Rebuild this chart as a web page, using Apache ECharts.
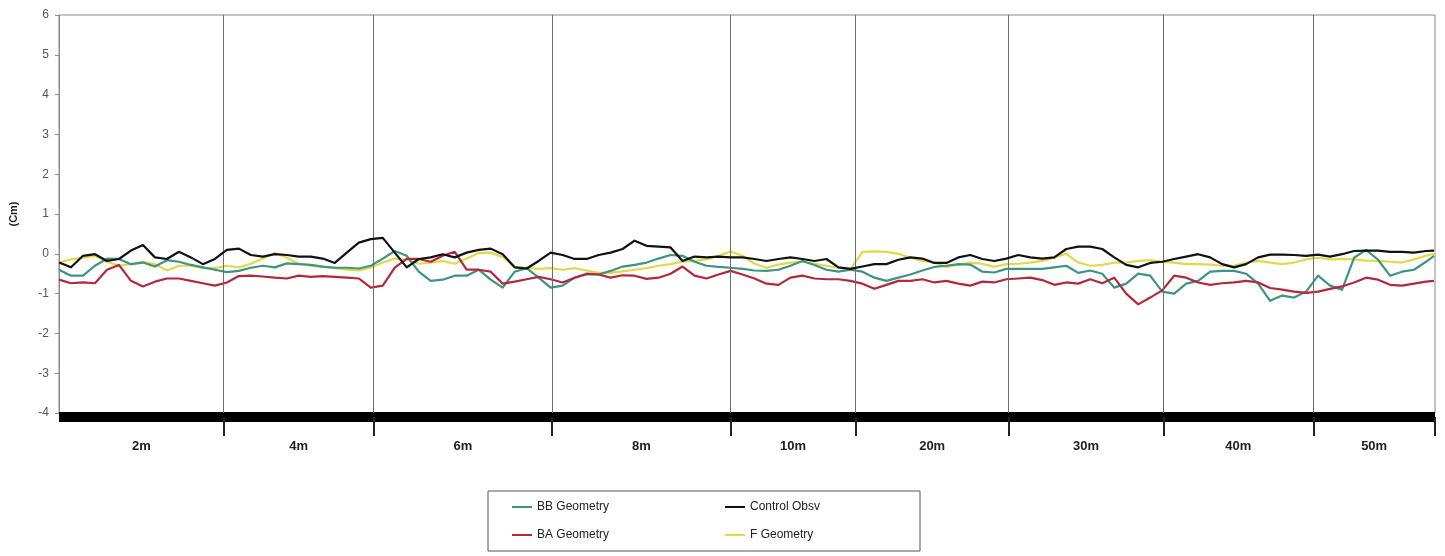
<!DOCTYPE html>
<html>
<head>
<meta charset="utf-8">
<script src="https://cdn.jsdelivr.net/npm/echarts@6/dist/echarts.min.js"></script>
<style>
html,body{margin:0;padding:0;background:#fff;}
#chart{width:1445px;height:556px;}
</style>
</head>
<body>
<div id="chart"></div>
<script>
// Section names (bottom axis) and their extents along the sample index scale
const sectionNames = ['2m','4m','6m','8m','10m','20m','30m','40m','50m'];
const sectionBounds = [0, 41.2, 78.7, 123.4, 168, 199.3, 237.6, 276.3, 313.8, 344.25];

// Sample positions (index along the run)
const samplePos = [0,3,6,9,12,15,18,21,24,27,30,33,36,39,42,45,48,51,54,57,60,63,66,69,72,75,78,81,84,87,90,93,96,99,102,105,108,111,114,117,
120,123,126,129,132,135,138,141,144,147,150,153,156,159,162,165,168,171,174,177,180,183,186,189,192,195,198,201,204,207,210,213,216,219,222,225,228,231,234,
237,240,243,246,249,252,255,258,261,264,267,270,273,276,279,282,285,288,291,294,297,300,303,306,309,312,315,318,321,324,327,330,333,336,339,342,344];

// Y axis tick values
const yTicks = [-4,-3,-2,-1,0,1,2,3,4,5,6];

const bbGeometry = [-0.40,-0.55,-0.55,-0.30,-0.12,-0.13,-0.26,-0.22,-0.32,-0.16,-0.20,-0.28,-0.34,-0.40,-0.46,-0.43,-0.35,-0.30,-0.34,-0.24,-0.26,-0.28,-0.32,-0.35,-0.35,-0.37,-0.30,-0.12,0.07,-0.05,-0.45,-0.68,-0.65,-0.55,-0.55,-0.40,-0.65,-0.85,-0.45,-0.36,
-0.60,-0.85,-0.80,-0.60,-0.52,-0.52,-0.43,-0.32,-0.28,-0.22,-0.12,-0.03,-0.05,-0.20,-0.30,-0.33,-0.35,-0.38,-0.42,-0.43,-0.40,-0.30,-0.18,-0.28,-0.40,-0.45,-0.40,-0.45,-0.60,-0.68,-0.60,-0.52,-0.42,-0.33,-0.30,-0.26,-0.27,-0.45,-0.47,
-0.38,-0.38,-0.38,-0.38,-0.34,-0.30,-0.48,-0.42,-0.50,-0.85,-0.75,-0.50,-0.55,-0.95,-1.00,-0.75,-0.68,-0.45,-0.43,-0.43,-0.50,-0.75,-1.18,-1.05,-1.10,-0.95,-0.55,-0.80,-0.90,-0.10,0.10,-0.15,-0.55,-0.45,-0.40,-0.20,-0.05];

const controlObsv = [-0.22,-0.34,-0.05,-0.01,-0.18,-0.13,0.08,0.22,-0.09,-0.13,0.05,-0.09,-0.26,-0.13,0.10,0.13,-0.03,-0.07,-0.01,-0.03,-0.07,-0.07,-0.12,-0.23,0.03,0.28,0.37,0.40,0.03,-0.34,-0.13,-0.09,-0.01,-0.09,0.03,0.10,0.13,-0.01,-0.34,-0.37,
-0.18,0.03,-0.03,-0.13,-0.13,-0.03,0.03,0.12,0.33,0.20,0.18,0.16,-0.18,-0.07,-0.09,-0.07,-0.09,-0.09,-0.13,-0.18,-0.13,-0.09,-0.13,-0.18,-0.13,-0.34,-0.38,-0.32,-0.26,-0.26,-0.15,-0.09,-0.12,-0.23,-0.23,-0.09,-0.03,-0.13,-0.18,
-0.12,-0.03,-0.09,-0.12,-0.09,0.12,0.18,0.18,0.12,-0.09,-0.28,-0.34,-0.23,-0.20,-0.13,-0.07,-0.01,-0.09,-0.26,-0.34,-0.26,-0.09,-0.02,-0.02,-0.03,-0.05,-0.02,-0.07,-0.01,0.07,0.08,0.08,0.05,0.05,0.03,0.07,0.08];

const baGeometry = [-0.65,-0.74,-0.72,-0.74,-0.40,-0.28,-0.68,-0.82,-0.70,-0.62,-0.62,-0.68,-0.74,-0.80,-0.72,-0.56,-0.55,-0.57,-0.60,-0.62,-0.55,-0.58,-0.56,-0.58,-0.60,-0.62,-0.85,-0.80,-0.35,-0.13,-0.13,-0.20,-0.05,0.05,-0.40,-0.40,-0.45,-0.75,-0.70,-0.64,
-0.58,-0.64,-0.72,-0.60,-0.50,-0.52,-0.60,-0.54,-0.55,-0.63,-0.60,-0.50,-0.32,-0.55,-0.62,-0.52,-0.43,-0.52,-0.62,-0.75,-0.78,-0.60,-0.55,-0.62,-0.64,-0.64,-0.68,-0.75,-0.88,-0.78,-0.68,-0.68,-0.64,-0.72,-0.68,-0.75,-0.80,-0.70,-0.72,
-0.64,-0.62,-0.60,-0.66,-0.78,-0.72,-0.75,-0.64,-0.74,-0.60,-1.00,-1.27,-1.10,-0.92,-0.55,-0.60,-0.72,-0.78,-0.74,-0.72,-0.68,-0.72,-0.86,-0.90,-0.95,-0.98,-0.95,-0.88,-0.82,-0.72,-0.60,-0.65,-0.78,-0.80,-0.75,-0.70,-0.68];

const fGeometry = [-0.22,-0.14,-0.10,-0.05,-0.20,-0.30,-0.26,-0.20,-0.26,-0.42,-0.30,-0.30,-0.36,-0.36,-0.30,-0.34,-0.25,-0.12,0.02,-0.10,-0.25,-0.30,-0.33,-0.36,-0.40,-0.42,-0.35,-0.22,-0.12,-0.15,-0.25,-0.22,-0.18,-0.25,-0.12,0.02,0.03,-0.08,-0.33,-0.35,
-0.38,-0.36,-0.40,-0.36,-0.42,-0.48,-0.48,-0.44,-0.40,-0.36,-0.30,-0.26,-0.20,-0.18,-0.14,-0.05,0.06,-0.05,-0.25,-0.35,-0.27,-0.22,-0.20,-0.25,-0.30,-0.35,-0.40,0.05,0.06,0.05,0.00,-0.10,-0.18,-0.22,-0.33,-0.28,-0.22,-0.25,-0.33,
-0.26,-0.25,-0.22,-0.18,-0.10,0.00,-0.22,-0.30,-0.28,-0.22,-0.22,-0.18,-0.16,-0.20,-0.22,-0.26,-0.26,-0.27,-0.30,-0.30,-0.22,-0.18,-0.22,-0.26,-0.22,-0.14,-0.10,-0.14,-0.13,-0.14,-0.17,-0.18,-0.20,-0.22,-0.14,-0.05,0.00];

const zip = (vals) => samplePos.map((x, i) => [x, vals[i]]);
const tickBounds = sectionBounds.slice(1);
const mids = sectionNames.map((n, i) => (sectionBounds[i] + sectionBounds[i + 1]) / 2);
const innerBounds = sectionBounds.slice(1, sectionBounds.length - 1);

const FONT = "'Liberation Sans', Arial, sans-serif";
const NARROW = "'Liberation Sans Narrow', 'Liberation Sans', Arial, sans-serif";

const chart = echarts.init(document.getElementById('chart'), null, {renderer: 'canvas'});

const lineSeries = (name, vals, color, z) => ({
  name, type: 'line', data: zip(vals), showSymbol: false, symbol: 'none',
  lineStyle: {color, width: 2.2, join: 'round'}, itemStyle: {color}, z, animation: false
});

const option = {
  animation: false,
  backgroundColor: '#fff',
  grid: {left: 58, right: 10, top: 15, bottom: 143, show: true, borderColor: '#8a8a8a', borderWidth: 1, containLabel: false},
  xAxis: {
    type: 'value', min: 0, max: sectionBounds[sectionBounds.length - 1],
    offset: 4,
    axisLine: {show: true, onZero: false, lineStyle: {color: '#000', width: 10, cap: 'butt'}},
    axisTick: {show: true, customValues: tickBounds, length: 19, lineStyle: {color: '#222', width: 2}},
    axisLabel: {
      show: true, customValues: mids, margin: 23,
      fontFamily: FONT, fontSize: 13, fontWeight: 'bold', color: '#222',
      formatter: (v) => {
        let best = 0, d = Infinity;
        mids.forEach((m, i) => { if (Math.abs(m - v) < d) { d = Math.abs(m - v); best = i; } });
        return sectionNames[best];
      }
    },
    splitLine: {show: false}
  },
  yAxis: {
    type: 'value', min: yTicks[0], max: yTicks[yTicks.length - 1], interval: 1,
    name: '(Cm)', nameLocation: 'middle', nameGap: 40, nameRotate: 90,
    nameTextStyle: {fontFamily: FONT, fontSize: 11, fontWeight: 'bold', color: '#222'},
    axisLine: {show: true, lineStyle: {color: '#8a8a8a', width: 1}},
    axisTick: {show: true, length: 4, lineStyle: {color: '#8a8a8a'}},
    axisLabel: {fontFamily: FONT, fontSize: 12, color: '#555', margin: 10},
    splitLine: {show: false}
  },
  legend: [
    {
      left: 488, top: 491, orient: 'vertical',
      data: ['BB Geometry', 'BA Geometry'],
      itemGap: 16, itemWidth: 20, itemHeight: 2, icon: 'rect',
      padding: [10, 311, 10, 24],
      borderColor: '#555', borderWidth: 1,
      textStyle: {fontFamily: NARROW, fontSize: 12, color: '#222', width: 100}
    },
    {
      left: 725, top: 501, orient: 'vertical',
      data: ['Control Obsv', 'F Geometry'],
      itemGap: 16, itemWidth: 20, itemHeight: 2, icon: 'rect',
      padding: 0,
      textStyle: {fontFamily: NARROW, fontSize: 12, color: '#222'}
    }
  ],
  series: [
    lineSeries('F Geometry', fGeometry, '#e3d84a', 2),
    lineSeries('BB Geometry', bbGeometry, '#3d9580', 3),
    lineSeries('BA Geometry', baGeometry, '#b3283b', 4),
    Object.assign(lineSeries('Control Obsv', controlObsv, '#111111', 5), {
      markLine: {
        silent: true, symbol: ['none', 'none'], label: {show: false},
        lineStyle: {color: '#6e6e6e', width: 1, type: 'solid'},
        data: innerBounds.map(b => ({xAxis: b}))
      }
    })
  ]
};
chart.setOption(option);
</script>
</body>
</html>
